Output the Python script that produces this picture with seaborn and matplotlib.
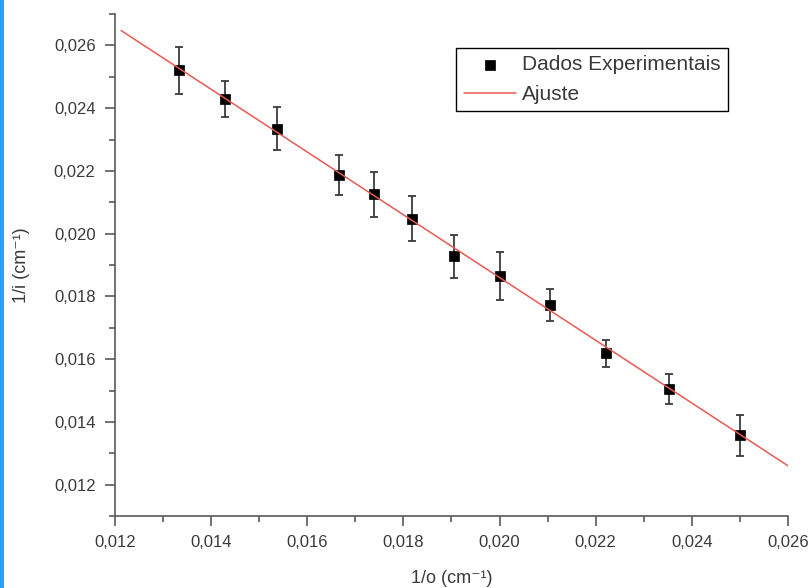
import matplotlib
matplotlib.use("Agg")
import matplotlib.pyplot as plt
from matplotlib.patches import Rectangle
from matplotlib.ticker import FixedLocator, MultipleLocator, FuncFormatter
import numpy as np
import pandas as pd
import seaborn as sns

# Measured inverse object distance (1/o) and inverse image distance (1/i), in cm^-1
inv_o = [0.01333, 0.01429, 0.01538, 0.01667, 0.01739, 0.01818,
         0.01905, 0.02000, 0.02105, 0.02222, 0.02353, 0.02500]
inv_i = [0.02520, 0.02429, 0.02335, 0.02187, 0.02125, 0.02048,
         0.01928, 0.01864, 0.01773, 0.01618, 0.01504, 0.01357]
inv_i_err = [0.00074, 0.00056, 0.00068, 0.00063, 0.00072, 0.00073,
             0.00069, 0.00077, 0.00052, 0.00043, 0.00047, 0.00066]

# Linear fit 1/i = a + b * (1/o)
fit_slope = -1.0
fit_intercept = 0.0386
fit_range = [0.01213, 0.026]

x_ticks = [0.012, 0.014, 0.016, 0.018, 0.020, 0.022, 0.024, 0.026]
y_ticks = [0.012, 0.014, 0.016, 0.018, 0.020, 0.022, 0.024, 0.026]

sns.set_theme(style="ticks")
plt.rcParams["font.family"] = ["Liberation Sans", "DejaVu Sans"]

axis_grey = "#5a5a5a"
text_grey = "#3a3a3a"

fig = plt.figure(figsize=(8.12, 5.88), dpi=100)
fig.patch.set_facecolor("white")
fig.patches.append(Rectangle((0, 0), 4 / 812, 1, transform=fig.transFigure,
                             facecolor="#2f9ef5", edgecolor="none", zorder=0))

ax = fig.add_axes([115 / 812, 1 - 516 / 588, 673 / 812, 502 / 588])

data = pd.DataFrame({"inv_o": inv_o, "inv_i": inv_i, "err": inv_i_err})

ax.errorbar(data["inv_o"], data["inv_i"], yerr=data["err"], fmt="none",
            ecolor="#3c3c3c", elinewidth=1.3, capsize=3.2, capthick=1.3, zorder=2)
sns.scatterplot(data=data, x="inv_o", y="inv_i", marker="s", s=55, color="black",
                edgecolor="black", linewidth=0.5, ax=ax, zorder=3,
                label="Dados Experimentais")

fit_x = np.array(fit_range)
fit = pd.DataFrame({"x": fit_x, "y": fit_intercept + fit_slope * fit_x})
sns.lineplot(data=fit, x="x", y="y", color="#e85a52", linewidth=1.1, ax=ax,
             zorder=4, label="Ajuste")

ax.set_xlim(0.012, 0.026)
ax.set_ylim(0.011, 0.027)
ax.xaxis.set_major_locator(FixedLocator(x_ticks))
ax.yaxis.set_major_locator(FixedLocator(y_ticks))
ax.xaxis.set_minor_locator(MultipleLocator(0.001))
ax.yaxis.set_minor_locator(MultipleLocator(0.001))
comma = FuncFormatter(lambda v, p: f"{v:.3f}".replace(".", ","))
ax.xaxis.set_major_formatter(comma)
ax.yaxis.set_major_formatter(comma)

for side in ("top", "right"):
    ax.spines[side].set_visible(False)
for side in ("left", "bottom"):
    ax.spines[side].set_color(axis_grey)
    ax.spines[side].set_linewidth(1.2)

ax.tick_params(which="major", direction="out", length=7, width=1.2,
               color=axis_grey, labelsize=12, labelcolor=text_grey)
ax.tick_params(which="minor", direction="out", length=4.5, width=1.2,
               color=axis_grey)
ax.tick_params(axis="y", which="major", pad=7)
ax.tick_params(axis="x", which="major", pad=7)

ax.set_xlabel("1/o (cm\u207b\u00b9)", fontsize=13, color=text_grey, labelpad=14)
ax.set_ylabel("1/i (cm\u207b\u00b9)", fontsize=13, color=text_grey, labelpad=17)

leg = ax.legend(loc="upper left", bbox_to_anchor=(0.507, 0.932), fontsize=15,
                frameon=True, fancybox=False, framealpha=1, edgecolor="black",
                borderpad=0.35, handlelength=2.5, handletextpad=0.3,
                labelspacing=0.5, borderaxespad=0)
leg.get_frame().set_linewidth(1.0)
for t in leg.get_texts():
    t.set_color(text_grey)

fig.savefig("out.png", dpi=100, facecolor="white")
